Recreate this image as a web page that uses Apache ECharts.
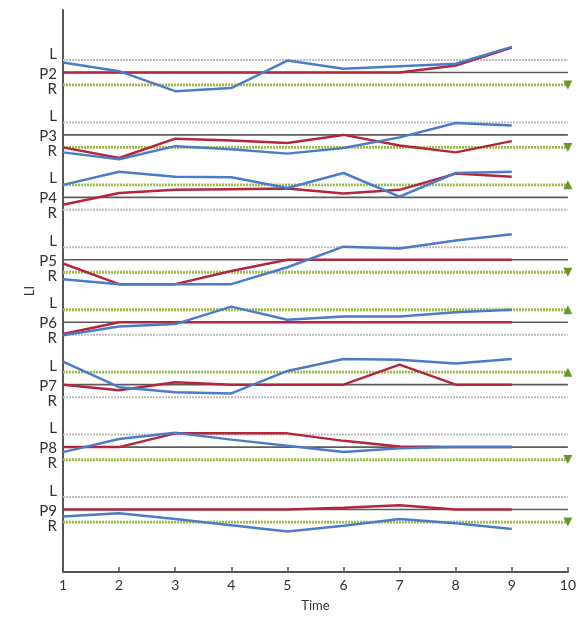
<!DOCTYPE html>
<html><head><meta charset="utf-8">
<script src="https://cdn.jsdelivr.net/npm/echarts@6/dist/echarts.min.js"></script>
<style>html,body{margin:0;padding:0;background:#fff}#c{width:579px;height:617px}</style>
</head><body><div id="c"></div>
<script>
// ---- data ----
const timePoints = [1, 2, 3, 4, 5, 6, 7, 8, 9];
const xTickValues = [1, 2, 3, 4, 5, 6, 7, 8, 9, 10];
const panelNames = ['P2', 'P3', 'P4', 'P5', 'P6', 'P7', 'P8', 'P9'];
const panelLevels = [8, 7, 6, 5, 4, 3, 2, 1];
const limitOffset = 0.2;            // L = P + offset, R = P - offset
const greenLimit = ['R', 'R', 'L', 'R', 'L', 'L', 'R', 'R'];
const limitLetters = ['L', 'R'];

const blueP2 = [8.16, 8.02, 7.70, 7.75, 8.19, 8.06, 8.10, 8.14, 8.41];
const redP2  = [8.00, 8.00, 8.00, 8.00, 8.00, 8.00, 8.00, 8.11, 8.40];
const blueP3 = [6.72, 6.61, 6.82, 6.77, 6.70, 6.79, 6.96, 7.19, 7.15];
const redP3  = [6.80, 6.63, 6.94, 6.91, 6.87, 7.00, 6.83, 6.72, 6.90];
const blueP4 = [6.20, 6.41, 6.33, 6.32, 6.15, 6.39, 6.01, 6.39, 6.41];
const redP4  = [5.88, 6.07, 6.12, 6.13, 6.14, 6.06, 6.12, 6.38, 6.33];
const blueP5 = [4.69, 4.61, 4.61, 4.61, 4.88, 5.21, 5.18, 5.31, 5.41];
const redP5  = [4.94, 4.61, 4.61, 4.82, 5.00, 5.00, 5.00, 5.00, 5.00];
const blueP6 = [3.79, 3.93, 3.97, 4.25, 4.04, 4.09, 4.09, 4.16, 4.20];
const redP6  = [3.81, 4.00, 4.00, 4.00, 4.00, 4.00, 4.00, 4.00, 4.00];
const blueP7 = [3.37, 2.96, 2.88, 2.86, 3.22, 3.41, 3.40, 3.34, 3.41];
const redP7  = [3.00, 2.91, 3.04, 3.00, 3.00, 3.00, 3.32, 3.00, 3.00];
const blueP8 = [1.92, 2.13, 2.23, 2.12, 2.02, 1.92, 1.98, 2.00, 2.00];
const redP8  = [2.00, 2.00, 2.22, 2.22, 2.22, 2.10, 2.01, 2.00, 2.00];
const blueP9 = [0.89, 0.94, 0.85, 0.75, 0.65, 0.74, 0.85, 0.78, 0.69];
const redP9  = [1.00, 1.00, 1.00, 1.00, 1.00, 1.03, 1.07, 1.00, 1.00];

const blueSets = [blueP2, blueP3, blueP4, blueP5, blueP6, blueP7, blueP8, blueP9];
const redSets  = [redP2, redP3, redP4, redP5, redP6, redP7, redP8, redP9];

// ---- styles ----
const FONT = 'Lato, "Open Sans", sans-serif';
const BLUE = '#4a7cc8';
const RED = '#b3263d';
const GRAY_DOT = '#bdbdbd';
const P_LINE = '#5c5c5c';
const GREEN = '#9cbc45';
const GREEN_MARK = '#6e9530';
const L_LABEL_SHIFT = 0.1, R_LABEL_SHIFT = -0.06, P_LABEL_SHIFT = -0.02;

const xMin = xTickValues[0], xMax = xTickValues[xTickValues.length - 1];

const labelMap = {};
const labelValues = [];
panelLevels.forEach((lv, i) => {
  const vals = [
    [lv + limitOffset + L_LABEL_SHIFT, limitLetters[0]],
    [lv + P_LABEL_SHIFT, panelNames[i]],
    [lv - limitOffset + R_LABEL_SHIFT, limitLetters[1]]
  ];
  vals.forEach(([v, t]) => { labelValues.push(v); labelMap[v.toFixed(3)] = t; });
});

const series = [];
panelLevels.forEach((lv, i) => {
  const levels = { L: lv + limitOffset, R: lv - limitOffset };
  ['L', 'R'].forEach(k => {
    const isGreen = greenLimit[i] === k;
    const v = levels[k];
    series.push({
      type: 'line', z: 1, silent: true,
      data: isGreen
        ? [{ value: [xMin, v], symbol: 'none' },
           { value: [xMax, v], symbol: 'triangle', symbolSize: 9,
             symbolRotate: k === 'R' ? 180 : 0 }]
        : [[xMin, v], [xMax, v]],
      showSymbol: isGreen, symbol: 'none',
      itemStyle: { color: GREEN_MARK },
      lineStyle: isGreen
        ? { color: GREEN, width: 2.8, type: [2, 1] }
        : { color: GRAY_DOT, width: 2, type: [2, 1] }
    });
  });
  series.push({
    type: 'line', z: 2, silent: true, symbol: 'none',
    data: [[xMin, lv], [xMax, lv]],
    lineStyle: { color: P_LINE, width: 1.6 }
  });
  series.push({
    type: 'line', z: 3, symbol: 'none',
    data: timePoints.map((t, j) => [t, redSets[i][j]]),
    lineStyle: { color: RED, width: 2.5 }
  });
  series.push({
    type: 'line', z: 4, symbol: 'none',
    data: timePoints.map((t, j) => [t, blueSets[i][j]]),
    lineStyle: { color: BLUE, width: 2.5 }
  });
});

const chart = echarts.init(document.getElementById('c'), null, { renderer: 'canvas' });
chart.setOption({
  animation: false,
  backgroundColor: '#fff',
  grid: { left: 63, right: 6, top: 10, bottom: 43, containLabel: false },
  xAxis: {
    type: 'value', min: xMin, max: xMax, interval: 1,
    name: 'Time', nameLocation: 'middle', nameGap: 27, nameMoveOverlap: false,
    nameTextStyle: { fontFamily: FONT, fontSize: 13, color: '#333' },
    axisLine: { lineStyle: { color: '#555', width: 2 } },
    axisTick: { inside: true, length: 5, lineStyle: { color: '#555', width: 1.5 } },
    axisLabel: { fontFamily: FONT, fontSize: 14, color: '#333', margin: 6,
      customValues: xTickValues },
    splitLine: { show: false }
  },
  yAxis: {
    type: 'value', min: 0, max: 9,
    name: 'LI', nameLocation: 'middle', nameRotate: 90, nameGap: 27, nameMoveOverlap: false,
    nameTextStyle: { fontFamily: FONT, fontSize: 13, color: '#333' },
    axisLine: { show: true, lineStyle: { color: '#555', width: 2 } },
    axisTick: { show: false },
    splitLine: { show: false },
    axisLabel: {
      customValues: labelValues, margin: 6,
      fontFamily: FONT, fontSize: 15, color: '#333',
      formatter: v => labelMap[Number(v).toFixed(3)] || ''
    }
  },
  series: series
});
</script></body></html>
